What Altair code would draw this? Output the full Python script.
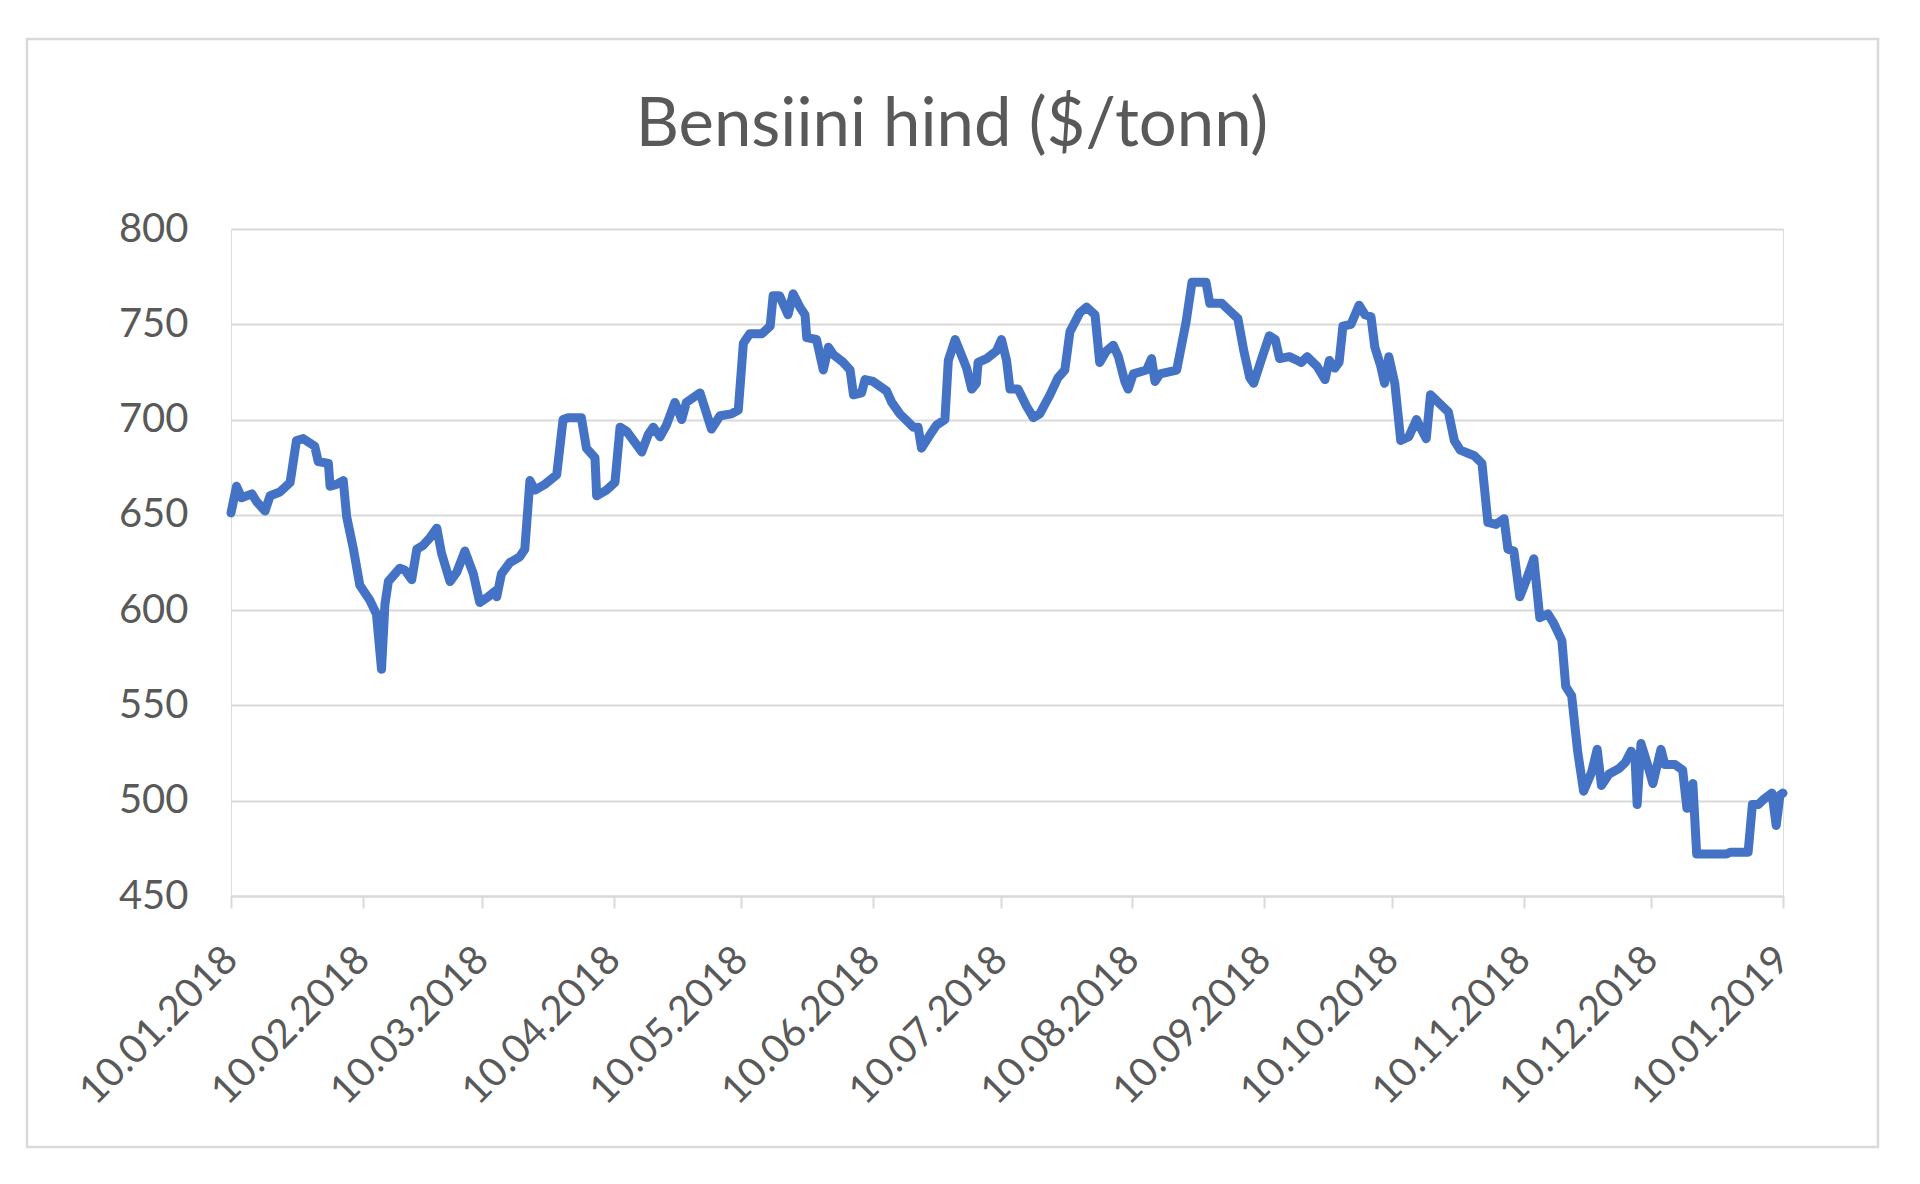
import altair as alt
import pandas as pd

# ---- data (days since 10.01.2018, price $/tonn) ----
day_offsets = [
    0, 1.3, 2.5, 4.9, 6.0, 8.0, 9.2, 11.5, 13.9, 15.4, 17.0, 19.7, 20.5, 22.9, 23.3,
    24.8, 26.4, 27.2, 28.8, 30.3, 32.7, 34.2, 35.4, 36.2, 37.0, 39.7, 40.9, 42.5,
    43.7, 45.2, 46.8, 48.4, 49.5, 51.5, 53.1, 55.0, 57.0, 58.5, 60.5, 62.1, 62.5,
    63.6, 65.6, 67.9, 69.1, 70.3, 71.5, 73.8, 76.6, 78.1, 79.3, 82.4, 83.6, 85.6,
    86.0, 88.3, 90.3, 91.5, 93.0, 95.0, 96.6, 98.1, 99.3, 100.9, 102.4, 104.4,
    106.0, 107.1, 110.3, 113.0, 115.0, 117.7, 119.3, 120.5, 122.0, 124.8, 126.8,
    127.5, 129.0, 131.0, 132.2, 133.8, 135.0, 135.4, 137.7, 139.3, 140.5, 141.7,
    144.0, 145.6, 146.4, 148.3, 149.1, 151.0, 154.2, 155.4, 157.3, 160.5, 161.6,
    162.4, 164.4, 165.9, 167.9, 168.7, 170.3, 171.4, 173.0, 174.2, 175.3, 175.7,
    177.7, 180.0, 181.2, 182.4, 183.2, 185.1, 187.1, 188.7, 190.2, 192.6, 194.5,
    196.1, 197.3, 199.6, 201.2, 203.2, 204.3, 205.9, 207.5, 208.7, 210.2, 211.0,
    212.2, 215.3, 216.5, 217.3, 218.5, 222.4, 224.6, 226.0, 229.3, 230.2, 233.0,
    234.9, 236.8, 238.2, 239.6, 240.5, 242.4, 244.2, 245.6, 246.6, 248.9, 250.8,
    251.7, 253.1, 255.4, 257.3, 258.3, 259.6, 260.6, 261.5, 263.4, 265.3, 266.7,
    268.1, 269.0, 270.4, 271.3, 272.3, 273.7, 275.1, 277.0, 278.8, 279.7, 281.1,
    282.1, 284.9, 286.3, 287.7, 289.1, 292.4, 294.2, 295.6, 297.5, 299.4, 300.3,
    301.7, 303.1, 304.5, 306.4, 307.8, 309.7, 311.1, 313.0, 313.9, 315.3, 316.7,
    318.1, 320.0, 321.3, 322.3, 324.1, 326.5, 327.9, 329.3, 330.2, 330.7, 331.6,
    333.0, 334.4, 336.3, 337.2, 339.6, 341.4, 342.4, 343.8, 344.7, 351.7, 352.6,
    356.8, 357.8, 359.2, 360.6, 362.4, 363.4, 364.3, 365.0,
]

prices = [
    651, 665, 659, 661, 657, 652, 660, 662, 667, 689, 690, 686, 678, 677, 665,
    666, 668, 649, 632, 613, 605, 598, 569, 603, 615, 622, 621, 616,
    632, 634, 638, 643, 630, 615, 620, 631, 619, 604, 607, 610, 607,
    619, 625, 628, 632, 668, 663, 666, 671, 700, 701, 701, 685, 680,
    660, 663, 667, 696, 694, 688, 683, 692, 696, 691, 697, 709,
    700, 709, 714, 695, 702, 703, 705, 740, 745, 745, 749,
    765, 765, 755, 766, 759, 755, 743, 742, 726, 738, 734,
    730, 726, 713, 714, 721, 720, 715, 709, 703, 696, 696,
    685, 692, 697, 700, 731, 742, 736, 727, 716, 719, 730,
    732, 736, 742, 731, 716, 716, 707, 701, 703, 713, 722,
    726, 746, 756, 759, 755, 730, 736, 739, 733, 720, 716,
    724, 726, 732, 720, 724, 726, 751, 772, 772, 761, 761,
    757, 753, 736, 722, 719, 732, 744, 742, 732, 733, 731,
    730, 733, 728, 721, 731, 727, 730, 749, 750, 760, 755,
    754, 738, 728, 719, 733, 719, 689, 691, 700, 696, 690,
    713, 707, 704, 689, 684, 681, 677, 646, 645, 648, 632,
    631, 607, 615, 627, 596, 598, 593, 584, 560, 555, 526,
    505, 515, 527, 508, 514, 517, 520, 526, 522, 498, 530,
    520, 509, 527, 519, 519, 516, 496, 509, 472, 472, 473,
    473, 498, 498, 501, 504, 487, 503, 504,
]

tick_dates = [
    "2018-01-10", "2018-02-10", "2018-03-10", "2018-04-10", "2018-05-10",
    "2018-06-10", "2018-07-10", "2018-08-10", "2018-09-10", "2018-10-10",
    "2018-11-10", "2018-12-10", "2019-01-10",
]
y_ticks = [450, 500, 550, 600, 650, 700, 750, 800]
title_text = "Bensiini hind ($/tonn)"
start_date = "2018-01-10"

# ---- build table ----
base = pd.Timestamp(start_date)
dates = [(base + pd.Timedelta(days=d)).strftime("%Y-%m-%dT%H:%M:%SZ") for d in day_offsets]
df = pd.DataFrame({"date": dates, "price": prices})


def dt(s):
    t = pd.Timestamp(s)
    return alt.DateTime(year=t.year, month=t.month, date=t.day, utc=True)


tick_values = [dt(s) for s in tick_dates]

W, H = 1552, 667
GRID = "#D9D9D9"
TXT = "#595959"

line = alt.Chart(df).mark_line(
    color="#4472C4", strokeWidth=9, strokeJoin="round", strokeCap="round"
).encode(
    x=alt.X(
        "date:T",
        scale=alt.Scale(type="utc", domain=[dt(tick_dates[0]), dt(tick_dates[-1])], nice=False),
        axis=alt.Axis(
            values=tick_values,
            labelExpr="utcFormat(datum.value, '%d.%m.%Y')",
            title=None,
            grid=False,
            domainColor=GRID,
            domainWidth=2,
            tickColor=GRID,
            tickWidth=2,
            tickSize=12,
            labelAngle=315,
            labelAlign="right",
            labelBaseline="middle",
            labelPadding=45,
            labelFont="Lato",
            labelFontSize=40,
            labelColor=TXT,
            labelOverlap=False,
            labelFlush=False,
            labelLimit=0,
        ),
    ),
    y=alt.Y(
        "price:Q",
        scale=alt.Scale(domain=[450, 800], nice=False, zero=False),
        axis=alt.Axis(
            values=y_ticks,
            title=None,
            grid=True,
            gridColor=GRID,
            gridWidth=2,
            domain=False,
            ticks=False,
            labelPadding=43,
            labelFont="Lato",
            labelFontSize=40,
            labelColor=TXT,
        ),
    ),
)

frame = alt.Chart(pd.DataFrame({"k": [0]})).mark_rect(
    fillOpacity=0, stroke=GRID, strokeWidth=2.5
).encode(
    x=alt.value(-204), x2=alt.value(1647), y=alt.value(-190), y2=alt.value(918)
)

title = alt.Chart(pd.DataFrame({"t": [title_text]})).mark_text(
    font="Lato", fontSize=67, color=TXT, align="center", baseline="alphabetic"
).encode(
    text="t:N", x=alt.value(721), y=alt.value(-83)
)

chart = alt.layer(frame, line, title).properties(
    width=W,
    height=H,
    autosize=alt.AutoSizeParams(type="none"),
    padding={"left": 223, "top": 221, "right": 129, "bottom": 260},
).configure_view(stroke=None).configure(font="Lato")

chart.save("out.html", embed_options={"renderer": "svg", "actions": False})
